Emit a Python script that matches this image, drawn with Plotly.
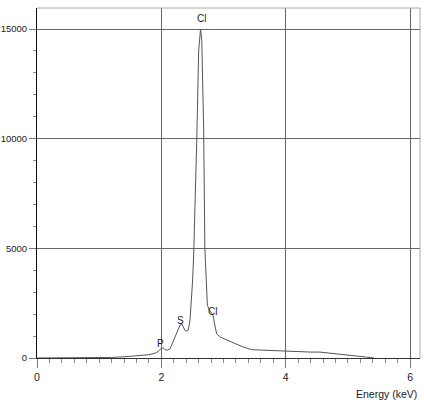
import plotly.graph_objects as go

# Spectrum data (Energy in keV, counts)
energy = [0.0, 0.2, 0.4, 0.6, 0.8, 1.0, 1.2, 1.4, 1.6, 1.7, 1.8, 1.9, 1.95,
          2.0, 2.03, 2.06, 2.1, 2.14, 2.18, 2.22, 2.26, 2.30, 2.33, 2.36, 2.38,
          2.40, 2.43, 2.46, 2.48, 2.50, 2.52, 2.55, 2.57, 2.60, 2.63, 2.65,
          2.66, 2.68, 2.70, 2.72, 2.74, 2.78, 2.83, 2.86, 2.89, 2.95, 3.1,
          3.3, 3.45, 3.6, 3.8, 4.0, 4.2, 4.4, 4.55, 4.7, 4.9, 5.1, 5.3, 5.42]
counts = [0, 0, 0, 5, 10, 15, 25, 55, 90, 110, 150, 220, 300,
          440, 460, 380, 360, 420, 700, 1000, 1300, 1500, 1550, 1380, 1260,
          1230, 1250, 1700, 2400, 3400, 4700, 7500, 10000, 14000, 15000, 14500,
          13500, 10500, 5000, 3200, 2400, 2150, 1950, 1500, 1100, 950, 760,
          520, 380, 360, 340, 320, 290, 270, 270, 230, 170, 100, 40, 0]

# Peak labels
peak_names = ["P", "S", "Cl", "Cl"]
peak_x = [1.99, 2.30, 2.64, 2.83]
peak_y = [680, 1730, 15500, 2140]

x_ticks = [0, 2, 4, 6]
y_ticks = [0, 5000, 10000, 15000]

FONT = "Liberation Sans, Arial"

fig = go.Figure()
fig.add_trace(go.Scatter(x=energy, y=counts, mode="lines",
                         line=dict(color="#555555", width=1),
                         hoverinfo="skip", showlegend=False))

for name, px, py in zip(peak_names, peak_x, peak_y):
    fig.add_annotation(x=px, y=py, text=name, showarrow=False,
                       font=dict(family=FONT, size=10, color="#222"))

fig.add_annotation(xref="paper", yref="paper", x=0.997, y=-0.08,
                   xanchor="right", yanchor="top", text="Energy (keV)",
                   showarrow=False,
                   font=dict(family=FONT, size=10.5, color="#222"))

# light top and right frame
fig.add_shape(type="line", xref="paper", yref="paper", x0=0, x1=1, y0=1, y1=1,
              line=dict(color="#aaaaaa", width=1))
fig.add_shape(type="line", xref="paper", yref="paper", x0=1, x1=1, y0=0, y1=1,
              line=dict(color="#aaaaaa", width=1))

fig.update_layout(
    width=424, height=405,
    margin=dict(l=37, r=4, t=8, b=47),
    paper_bgcolor="white", plot_bgcolor="white",
    font=dict(family=FONT, size=10, color="#222"),
    xaxis=dict(range=[0, 6.16], tickvals=x_ticks, ticktext=[str(v) for v in x_ticks],
               automargin=False, tickfont=dict(size=10.5),
               showgrid=True, gridcolor="#666666", gridwidth=1,
               zeroline=False, showline=True, linecolor="#333", linewidth=1,
               ticks="outside", ticklen=9, tickcolor="#777",
               minor=dict(dtick=0.2, ticks="outside", ticklen=4, tickcolor="#888",
                          showgrid=False)),
    yaxis=dict(range=[0, 15960], tickvals=y_ticks, ticktext=[str(v) for v in y_ticks],
               automargin=False, tickfont=dict(size=9.5),
               showgrid=True, gridcolor="#666666", gridwidth=1,
               zeroline=False, showline=True, linecolor="#111", linewidth=1,
               ticks="outside", ticklen=7, tickcolor="#777",
               minor=dict(dtick=1000, ticks="outside", ticklen=3, tickcolor="#888",
                          showgrid=False)),
)

fig.write_html("out.html", config={"displayModeBar": False},
               post_script="document.body.style.margin='0';document.body.style.overflow='hidden';")
